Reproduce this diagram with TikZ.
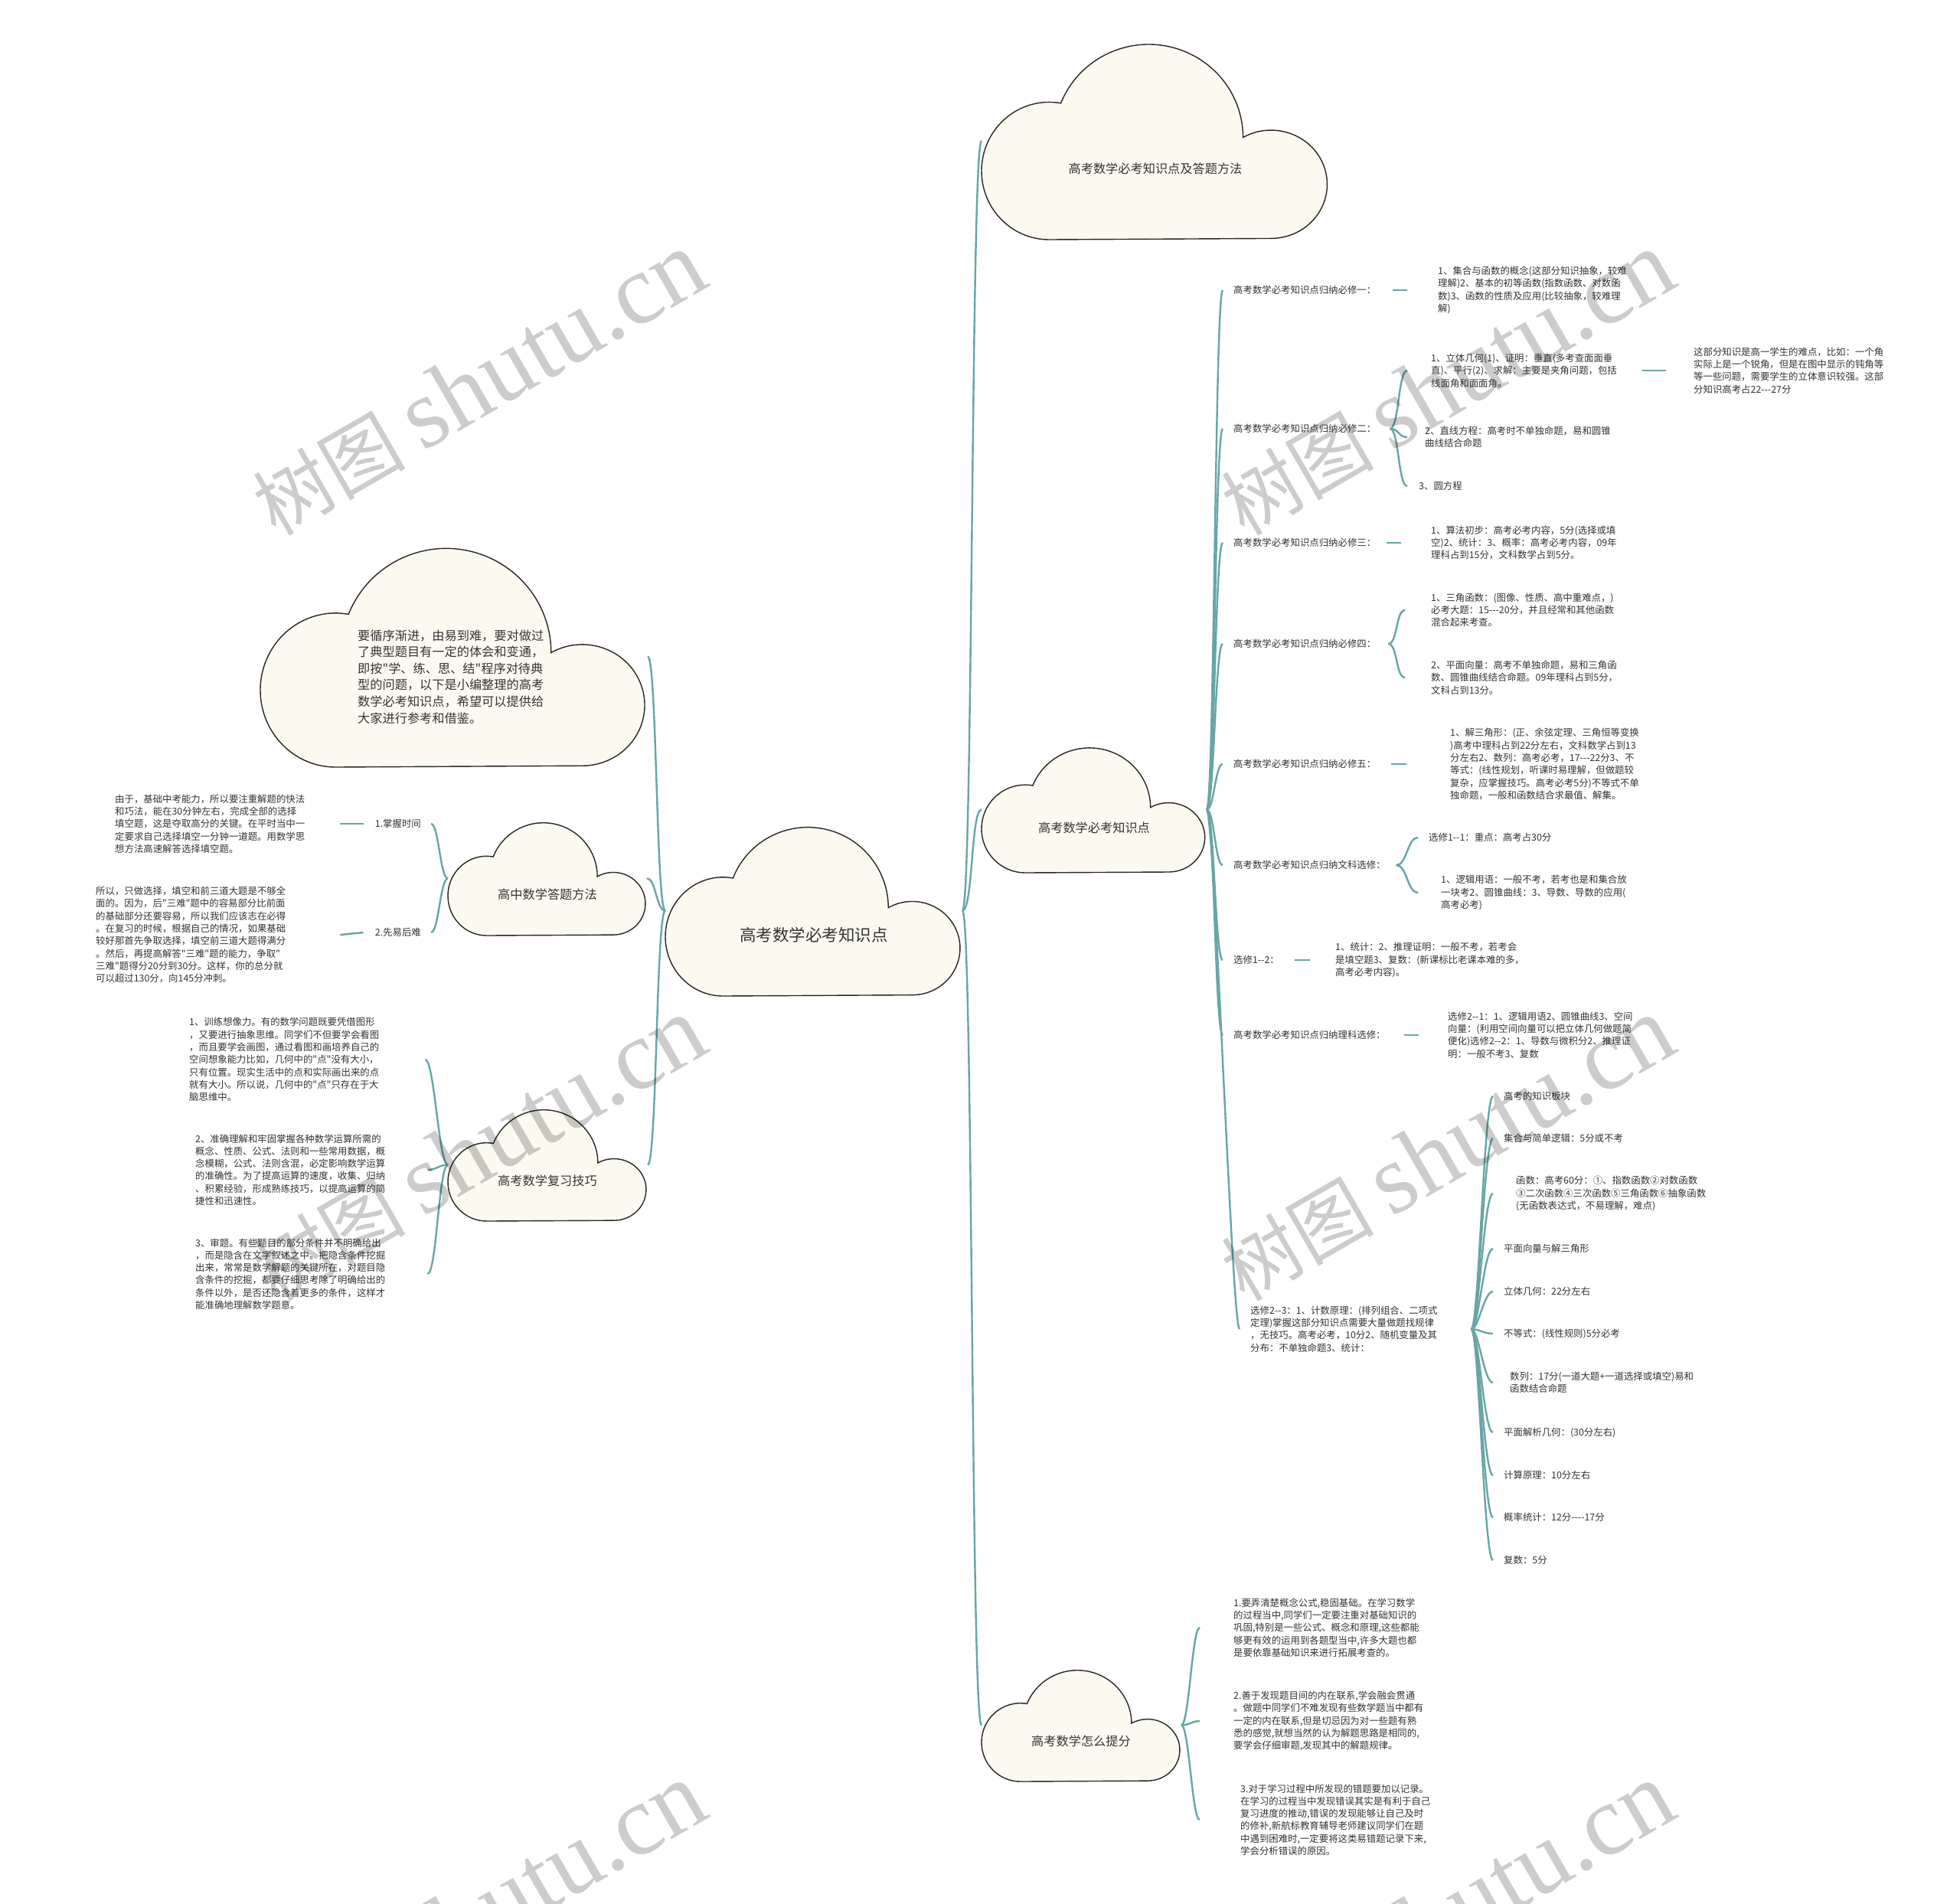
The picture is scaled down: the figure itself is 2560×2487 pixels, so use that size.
\documentclass[tikz,border=0pt]{standalone}
\usepackage{fontspec}
\setmainfont{Noto Sans CJK SC}[Ligatures=TeXOff]
\newfontfamily\wmfont{Liberation Serif}[Ligatures=TeXOff]
\usetikzlibrary{calc}
\definecolor{teal1}{RGB}{104,165,165}
\definecolor{cloudfill}{RGB}{252,250,240}
\definecolor{txt}{RGB}{51,51,51}
\pgfdeclarelayer{bg}
\pgfdeclarelayer{edges}
\pgfdeclarelayer{wmark}
\pgfsetlayers{bg,edges,main,wmark}
\newcommand\cloudshape[5]{%
  \node[inner sep=0pt, outer sep=0pt, minimum width=#4pt, minimum height=#5pt, anchor=north west] (#1) at (#2,#3) {};
  \begin{scope}[shift={(#1.south west)}, x={(#4pt,0pt)}, y={(0pt,#5pt)}]
    \filldraw[cloudline] (0.194,0) arc[start angle=270, end angle=80, x radius=0.194, y radius=0.348]
      arc[start angle=158.4, end angle=0, x radius=0.271, y radius=0.471]
      arc[start angle=120, end angle=-90, x radius=0.161, y radius=0.274] -- cycle;
  \end{scope}}
\begin{document}
\begin{tikzpicture}[x=1pt,y=-1pt,
  cloudline/.style={fill=cloudfill, draw=black!85, line width=1.4pt},
  br/.style={draw=teal1, line width=2.4pt},
  det/.style={font=\fontsize{12.4}{16.3}\selectfont, text=txt, align=left, inner sep=0pt, anchor=west},
  ctext/.style={font=\fontsize{16.2}{20}\selectfont, text=txt, inner sep=0pt},
  wmk/.style={text=black, opacity=0.2, inner sep=0pt, rotate=30, anchor=base west}]
\begin{pgfonlayer}{bg}
\fill[white] (0,0) rectangle (2560,2487);
\end{pgfonlayer}
\useasboundingbox (0,0) rectangle (2560,2487);

% clouds
\cloudshape{C}{869}{1078}{388}{223}
\node[ctext, font=\fontsize{21.5}{26}\selectfont] (Ct) at (1063,1221) {高考数学必考知识点};
\cloudshape{T}{1282}{55}{455}{258}
\node[ctext] (Tt) at (1509,220) {高考数学必考知识点及答题方法};
\cloudshape{M}{1282}{975}{294}{165}
\node[ctext] (Mt) at (1429,1081) {高考数学必考知识点};
\cloudshape{B}{1282}{2180}{261}{147}
\node[ctext] (Bt) at (1412,2274) {高考数学怎么提分};
\cloudshape{BIG}{340}{713}{506}{289}
\node[ctext, font=\fontsize{16.2}{21.6}\selectfont, align=left, anchor=west] (BIGt) at (467,884) {要循序渐进，由易到难，要对做过\\了典型题目有一定的体会和变通，\\即按"学、练、思、结"程序对待典\\型的问题，以下是小编整理的高考\\数学必考知识点，希望可以提供给\\大家进行参考和借鉴。};
\cloudshape{Q}{585}{1073}{260}{149}
\node[ctext] (Qt) at (715,1168) {高中数学答题方法};
\cloudshape{R}{585}{1448}{261}{147}
\node[ctext] (Rt) at (715,1542) {高考数学复习技巧};

% right column labels and details
\node[det] (L1) at (1611,379) {高考数学必考知识点归纳必修一：};
\node[det] (D1) at (1878,379) {1、集合与函数的概念(这部分知识抽象，较难\\理解)2、基本的初等函数(指数函数、对数函\\数)3、函数的性质及应用(比较抽象，较难理\\解)};
\node[det] (L2) at (1611,560) {高考数学必考知识点归纳必修二：};
\node[det] (D2a) at (1869,484) {1、立体几何(1)、证明：垂直(多考查面面垂\\直)、平行(2)、求解：主要是夹角问题，包括\\线面角和面面角。};
\node[det] (D2x) at (2212,484) {这部分知识是高一学生的难点，比如：一个角\\实际上是一个锐角，但是在图中显示的钝角等\\等一些问题，需要学生的立体意识较强。这部\\分知识高考占22---27分};
\node[det] (D2b) at (1861,571) {2、直线方程：高考时不单独命题，易和圆锥\\曲线结合命题};
\node[det] (D2c) at (1853,635) {3、圆方程};
\node[det] (L3) at (1611,709) {高考数学必考知识点归纳必修三：};
\node[det] (D3) at (1869,709) {1、算法初步：高考必考内容，5分(选择或填\\空)2、统计：3、概率：高考必考内容，09年\\理科占到15分，文科数学占到5分。};
\node[det] (L4) at (1611,841) {高考数学必考知识点归纳必修四：};
\node[det] (D4a) at (1869,797) {1、三角函数：(图像、性质、高中重难点，)\\必考大题：15---20分，并且经常和其他函数\\混合起来考查。};
\node[det] (D4b) at (1869,885) {2、平面向量：高考不单独命题，易和三角函\\数、圆锥曲线结合命题。09年理科占到5分，\\文科占到13分。};
\node[det] (L5) at (1611,998) {高考数学必考知识点归纳必修五：};
\node[det] (D5) at (1894,998) {1、解三角形：(正、余弦定理、三角恒等变换\\)高考中理科占到22分左右，文科数学占到13\\分左右2、数列：高考必考，17---22分3、不\\等式：(线性规划，听课时易理解，但做题较\\复杂，应掌握技巧。高考必考5分)不等式不单\\独命题，一般和函数结合求最值、解集。};
\node[det] (L6) at (1611,1130) {高考数学必考知识点归纳文科选修：};
\node[det] (D6a) at (1866,1094) {选修1--1：重点：高考占30分};
\node[det] (D6b) at (1882,1166) {1、逻辑用语：一般不考，若考也是和集合放\\一块考2、圆锥曲线：3、导数、导数的应用(\\高考必考)};
\node[det] (L7) at (1611,1254) {选修1--2：};
\node[det] (D7) at (1744,1254) {1、统计：2、推理证明：一般不考，若考会\\是填空题3、复数：(新课标比老课本难的多，\\高考必考内容)。};
\node[det] (L8) at (1611,1352) {高考数学必考知识点归纳理科选修：};
\node[det] (D8) at (1891,1352) {选修2--1：1、逻辑用语2、圆锥曲线3、空间\\向量：(利用空间向量可以把立体几何做题简\\便化)选修2--2：1、导数与微积分2、推理证\\明：一般不考3、复数};
\node[det] (L9) at (1633,1736) {选修2--3：1、计数原理：(排列组合、二项式\\定理)掌握这部分知识点需要大量做题找规律\\，无技巧。高考必考，10分2、随机变量及其\\分布：不单独命题3、统计：};
\node[det] (K1) at (1964,1432) {高考的知识板块};
\node[det] (K2) at (1964,1487) {集合与简单逻辑：5分或不考};
\node[det] (K3) at (1980,1559) {函数：高考60分：①、指数函数②对数函数\\③二次函数④三次函数⑤三角函数⑥抽象函数\\(无函数表达式，不易理解，难点)};
\node[det] (K4) at (1964,1631) {平面向量与解三角形};
\node[det] (K5) at (1964,1687) {立体几何：22分左右};
\node[det] (K6) at (1964,1742) {不等式：(线性规则)5分必考};
\node[det] (K7) at (1972,1806) {数列：17分(一道大题+一道选择或填空)易和\\函数结合命题};
\node[det] (K8) at (1964,1871) {平面解析几何：(30分左右)};
\node[det] (K9) at (1964,1927) {计算原理：10分左右};
\node[det] (K10) at (1964,1982) {概率统计：12分----17分};
\node[det] (K11) at (1964,2038) {复数：5分};
\coordinate (F) at ([xshift=44pt]L9.east);

% bottom right
\node[det] (P1) at (1611,2126) {1.要弄清楚概念公式,稳固基础。在学习数学\\的过程当中,同学们一定要注重对基础知识的\\巩固,特别是一些公式、概念和原理,这些都能\\够更有效的运用到各题型当中,许多大题也都\\是要依靠基础知识来进行拓展考查的。};
\node[det] (P2) at (1611,2248) {2.善于发现题目间的内在联系,学会融会贯通\\。做题中同学们不难发现有些数学题当中都有\\一定的内在联系,但是切忌因为对一些题有熟\\悉的感觉,就想当然的认为解题思路是相同的,\\要学会仔细审题,发现其中的解题规律。};
\node[det] (P3) at (1620,2377) {3.对于学习过程中所发现的错题要加以记录。\\在学习的过程当中发现错误其实是有利于自己\\复习进度的推动,错误的发现能够让自己及时\\的修补,新航标教育辅导老师建议同学们在题\\中遇到困难时,一定要将这类易错题记录下来,\\学会分析错误的原因。};

% left side
\node[det, anchor=east] (QL1) at (550,1076) {1.掌握时间};
\node[det, anchor=east] (QL2) at (550,1218) {2.先易后难};
\node[det] (TA1) at (150,1076) {由于，基础中考能力，所以要注重解题的快法\\和巧法，能在30分钟左右，完成全部的选择\\填空题，这是夺取高分的关键。在平时当中一\\定要求自己选择填空一分钟一道题。用数学思\\想方法高速解答选择填空题。};
\node[det] (TA2) at (125,1221) {所以，只做选择，填空和前三道大题是不够全\\面的。因为，后"三难"题中的容易部分比前面\\的基础部分还要容易，所以我们应该志在必得\\。在复习的时候，根据自己的情况，如果基础\\较好那首先争取选择，填空前三道大题得满分\\。然后，再提高解答"三难"题的能力，争取"\\三难"题得分20分到30分。这样，你的总分就\\可以超过130分，向145分冲刺。};
\node[det] (R1) at (247,1384) {1、训练想像力。有的数学问题既要凭借图形\\，又要进行抽象思维。同学们不但要学会看图\\，而且要学会画图，通过看图和画培养自己的\\空间想象能力比如，几何中的"点"没有大小，\\只有位置。现实生活中的点和实际画出来的点\\就有大小。所以说，几何中的"点"只存在于大\\脑思维中。};
\node[det] (R2) at (255,1528) {2、准确理解和牢固掌握各种数学运算所需的\\概念、性质、公式、法则和一些常用数据，概\\念模糊，公式、法则含混，必定影响数学运算\\的准确性。为了提高运算的速度，收集、归纳\\、积累经验，形成熟练技巧，以提高运算的简\\捷性和迅速性。};
\node[det] (R3) at (255,1664) {3、审题。有些题目的部分条件并不明确给出\\，而是隐含在文字叙述之中。把隐含条件挖掘\\出来，常常是数学解题的关键所在，对题目隐\\含条件的挖掘，都要仔细思考除了明确给出的\\条件以外，是否还隐含着更多的条件，这样才\\能准确地理解数学题意。};

\begin{pgfonlayer}{edges}
% from central cloud
\foreach \n in {T,M,B}
  \draw[br] (C.east) .. controls +(14,0) and +(-14,0) .. (\n.west);
\foreach \n in {BIG,Q,R}
  \draw[br] (C.west) .. controls +(-12,0) and +(12,0) .. (\n.east);
% from M to labels
\foreach \n in {L1,L2,L3,L4,L5,L6,L7,L8,L9}
  \draw[br] (M.east) .. controls +(10,0) and +(-10,0) .. ([xshift=-14pt]\n.west);
% dashes
\draw[br] ([xshift=22pt]L1.east) -- ([xshift=-40pt]D1.west);
\draw[br] ([xshift=14pt]L3.east) -- ([xshift=-39pt]D3.west);
\draw[br] ([xshift=20pt]L5.east) -- ([xshift=-57pt]D5.west);
\draw[br] ([xshift=20pt]L7.east) -- ([xshift=-33pt]D7.west);
\draw[br] ([xshift=24pt]L8.east) -- ([xshift=-38pt]D8.west);
\draw[br] ([xshift=33pt]D2a.east) -- ([xshift=-36pt]D2x.west);
% braces
\draw[br] ([xshift=18pt]L2.east) .. controls +(12,0) and +(-12,0) .. ([xshift=-31pt]D2a.west);
\draw[br] ([xshift=18pt]L2.east) .. controls +(12,0) and +(-12,0) .. ([xshift=-23pt]D2b.west);
\draw[br] ([xshift=18pt]L2.east) .. controls +(12,0) and +(-12,0) .. ([xshift=-15pt]D2c.west);
\draw[br] ([xshift=16pt]L4.east) .. controls +(12,0) and +(-12,0) .. ([xshift=-34pt]D4a.west);
\draw[br] ([xshift=16pt]L4.east) .. controls +(12,0) and +(-12,0) .. ([xshift=-34pt]D4b.west);
\draw[br] ([xshift=14pt]L6.east) .. controls +(14,0) and +(-14,0) .. ([xshift=-14pt]D6a.west);
\draw[br] ([xshift=14pt]L6.east) .. controls +(14,0) and +(-14,0) .. ([xshift=-30pt]D6b.west);
% fan
\foreach \n in {K1,K2,K4,K5,K6,K8,K9,K10,K11}
  \draw[br] (F) .. controls +(10,0) and +(-12,0) .. ([xshift=-14pt]\n.west);
\draw[br] (F) .. controls +(10,0) and +(-12,0) .. ([xshift=-30pt]K3.west);
\draw[br] (F) .. controls +(10,0) and +(-12,0) .. ([xshift=-22pt]K7.west);
% bottom cloud
\draw[br] (B.east) .. controls +(10,0) and +(-10,0) .. ([xshift=-44pt]P1.west);
\draw[br] (B.east) .. controls +(10,0) and +(-10,0) .. ([xshift=-44pt]P2.west);
\draw[br] (B.east) .. controls +(10,0) and +(-10,0) .. ([xshift=-53pt]P3.west);
% left clouds
\draw[br] (Q.west) .. controls +(-10,0) and +(10,0) .. ([xshift=13pt]QL1.east);
\draw[br] (Q.west) .. controls +(-10,0) and +(10,0) .. ([xshift=13pt]QL2.east);
\draw[br] ([xshift=46pt]TA1.east) -- ([xshift=-15pt]QL1.west);
\draw[br] ([xshift=71pt]TA2.east) -- ([xshift=-15pt]QL2.west);
\draw[br] (R.west) .. controls +(-12,0) and +(12,0) .. ([xshift=60pt]R1.east);
\draw[br] (R.west) .. controls +(-12,0) and +(12,0) .. ([xshift=55pt]R2.east);
\draw[br] (R.west) .. controls +(-12,0) and +(12,0) .. ([xshift=55pt]R3.east);
\end{pgfonlayer}

\begin{pgfonlayer}{wmark}
\begin{scope}
\clip (0,0) rectangle (2560,2487);
\foreach \wx/\wy [count=\i] in {360/702,1625/702,360/1702,1625/1702,360/2702,1625/2702}
  \node[wmk] (W\i) at (\wx,\wy) {\fontsize{100}{100}\selectfont 树图 {\wmfont\fontsize{130}{130}\selectfont shutu.cn}};
\end{scope}
\end{pgfonlayer}
\end{tikzpicture}
\end{document}
